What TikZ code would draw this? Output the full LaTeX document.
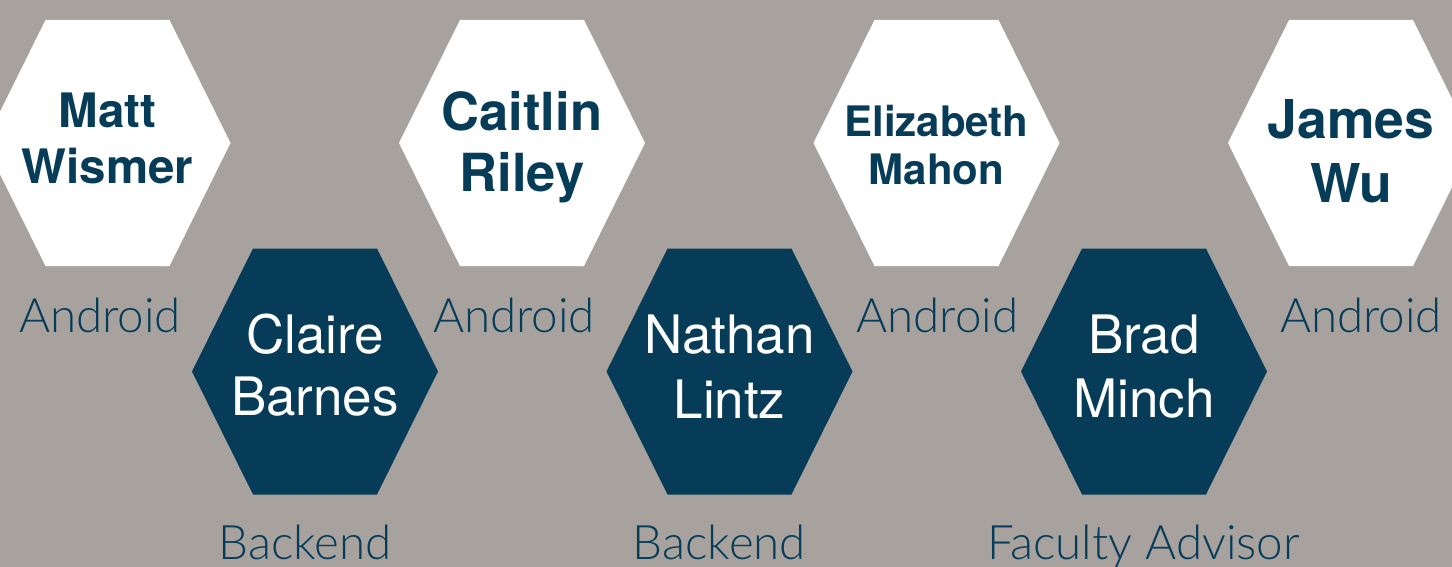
\documentclass[tikz,border=0pt]{standalone}
\usepackage{fontspec}
\setmainfont{TeX Gyre Heros}
\newfontfamily\lightfont{Lato Light}

\definecolor{bggrey}{HTML}{A8A29F}
\definecolor{teamblue}{HTML}{063C58}

\begin{document}
\begin{tikzpicture}[x=1pt,y=-1pt,
  hexwhite/.style={fill=white},
  hexblue/.style={fill=teamblue},
  namedark/.style={anchor=base,align=center,text=teamblue,inner sep=0pt},
  namelight/.style={anchor=base,align=center,text=white,inner sep=0pt},
  role/.style={anchor=base,text=teamblue,inner sep=0pt,font=\lightfont\fontsize{47.5}{56}\selectfont}]

\useasboundingbox (0,0) rectangle (1452,567) ;
\clip (0,0) rectangle (1452,567) ;
\fill[bggrey] (0,0) rectangle (1452,567) ;

% top row
\fill[hexwhite] (107.5,143) ++(-123,0) -- ++(61,-123) -- ++(124,0) -- ++(61,123) -- ++(-61,123) -- ++(-124,0) -- cycle ;
\fill[hexwhite] (522,143) ++(-123,0) -- ++(61,-123) -- ++(124,0) -- ++(61,123) -- ++(-61,123) -- ++(-124,0) -- cycle ;
\fill[hexwhite] (936.5,143) ++(-123,0) -- ++(61,-123) -- ++(124,0) -- ++(61,123) -- ++(-61,123) -- ++(-124,0) -- cycle ;
\fill[hexwhite] (1351,143) ++(-123,0) -- ++(61,-123) -- ++(124,0) -- ++(61,123) -- ++(-61,123) -- ++(-124,0) -- cycle ;

% bottom row
\fill[hexblue] (315,371.5) ++(-123,0) -- ++(61,-123) -- ++(124,0) -- ++(61,123) -- ++(-61,123) -- ++(-124,0) -- cycle ;
\fill[hexblue] (729.5,371.5) ++(-123,0) -- ++(61,-123) -- ++(124,0) -- ++(61,123) -- ++(-61,123) -- ++(-124,0) -- cycle ;
\fill[hexblue] (1144,371.5) ++(-123,0) -- ++(61,-123) -- ++(124,0) -- ++(61,123) -- ++(-61,123) -- ++(-124,0) -- cycle ;

\node[namedark,font=\bfseries\fontsize{47.5}{56}\selectfont] (matt) at (107.5,183) {Matt\\Wismer} ;
\node[namedark,font=\bfseries\fontsize{52.5}{62}\selectfont] (caitlin) at (522,192) {Caitlin\\Riley} ;
\node[namedark,font=\bfseries\fontsize{42}{48}\selectfont] (elizabeth) at (936.5,185) {Elizabeth\\Mahon} ;
\node[namedark,font=\bfseries\fontsize{53.5}{64}\selectfont] (james) at (1351,202) {James\\Wu} ;

\node[namelight,font=\fontsize{53}{62}\selectfont] (claire) at (315,415) {Claire\\Barnes} ;
\node[namelight,font=\fontsize{53}{65}\selectfont] (nathan) at (729.5,418) {Nathan\\Lintz} ;
\node[namelight,font=\fontsize{53}{64}\selectfont] (brad) at (1144,417) {Brad\\Minch} ;

\node[role] (mattrole) at (100,332) {Android} ;
\node[role] (caitlinrole) at (514,332) {Android} ;
\node[role] (elizabethrole) at (937.5,332) {Android} ;
\node[role] (jamesrole) at (1361,332) {Android} ;

\node[role] (clairerole) at (305,559) {Backend} ;
\node[role] (nathanrole) at (719.5,559) {Backend} ;
\node[role] (bradrole) at (1143.5,559) {Faculty Advisor} ;

\end{tikzpicture}
\end{document}
